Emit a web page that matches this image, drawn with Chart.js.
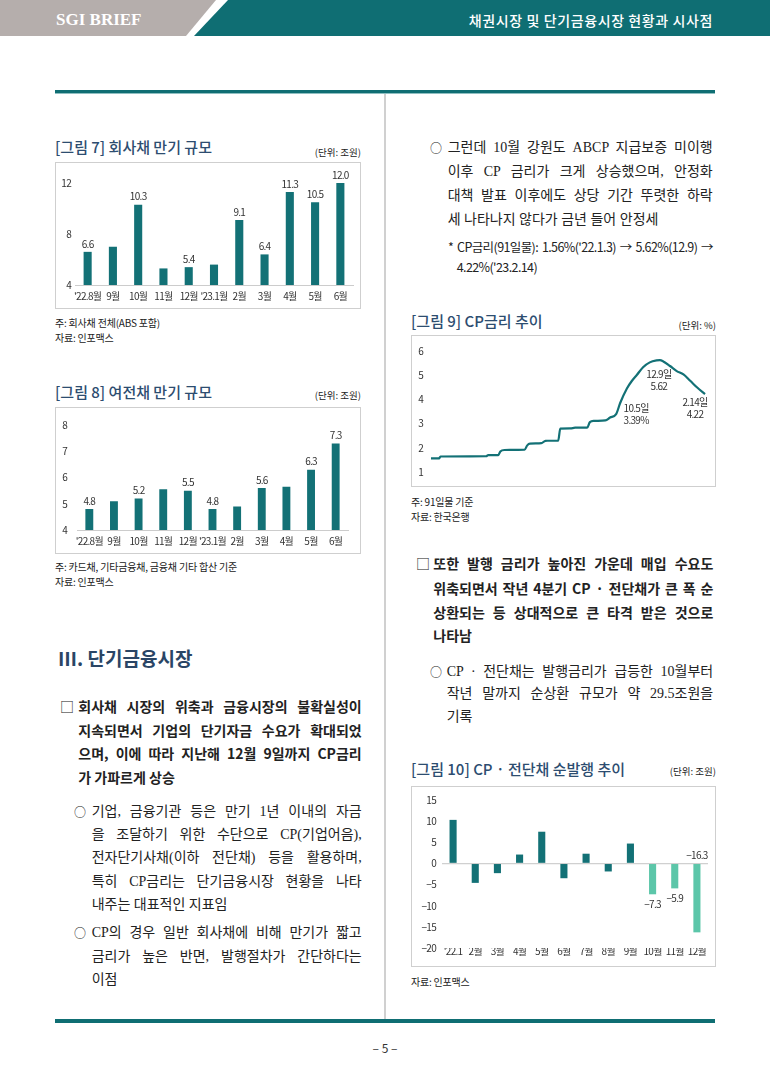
<!DOCTYPE html>
<html>
<head>
<meta charset="utf-8">
<script src="https://cdn.jsdelivr.net/npm/chart.js@4.4.0/dist/chart.umd.min.js"></script>
<style>
  body { margin: 0; background: #fff; }
  #page { position: relative; width: 770px; height: 1089px; overflow: hidden; font-family: "Noto Sans CJK KR", sans-serif; color: #222; }
  .abs { position: absolute; }
  .line { position: absolute; height: 20px; line-height: 20px; font-size: 14px; white-space: nowrap; }
  .bold { font-weight: 700; color: #222; }
  .serif { font-family: "Liberation Serif", "Noto Sans CJK KR", serif; font-weight: 400; color: #222; }
  .note { font-size: 12.5px; letter-spacing: -0.6px; color: #222; }
  .figtitle { position: absolute; font-size: 15px; font-weight: 500; color: #2d4d70; line-height: 18px; white-space: nowrap; }
  .unit { position: absolute; font-size: 9.5px; color: #222; line-height: 12px; white-space: nowrap; text-align: right; }
  .src { position: absolute; font-size: 10px; color: #222; line-height: 13px; white-space: nowrap; letter-spacing: -0.2px; }
  .frame { position: absolute; border: 1.5px solid #cfcfcf; box-sizing: border-box; }
  .cv { position: absolute; }
</style>
</head>
<body>
<div id="page">
  <div class="abs" style="left:0;top:0;width:770px;height:36px;background:#b5aeac;clip-path:polygon(0 0,216px 0,186px 36px,0 36px);"></div>
  <div class="abs" style="left:0;top:0;width:770px;height:36px;background:#0f6e73;clip-path:polygon(228px 0,770px 0,770px 36px,194px 36px);"></div>
  <div class="abs" style="left:56px;top:9px;font-family:'Liberation Serif',serif;font-weight:700;font-size:17px;color:#fff;line-height:22px;">SGI BRIEF</div>
  <div class="abs" style="right:57px;top:10px;font-size:14px;font-weight:500;color:#fff;line-height:20px;letter-spacing:0.6px;">채권시장 및 단기금융시장 현황과 시사점</div>

  <div class="abs" style="left:55px;top:90px;width:660px;height:3px;background:#0f6e73;"></div>
  <div class="abs" style="left:55px;top:93px;width:660px;height:1px;background:#8fbfc1;"></div>
  <div class="abs" style="left:384px;top:94px;width:1.5px;height:926px;background:#d0d0d0;"></div>
  <div class="abs" style="left:55px;top:1019px;width:660px;height:4px;background:#0f6e73;"></div>
  <div class="abs" style="left:0;width:770px;top:1039px;text-align:center;font-size:12px;color:#333;line-height:18px;">– 5 –</div>

  <!-- figure 7 -->
  <div class="figtitle" style="left:55px;top:138px;">[그림 7] 회사채 만기 규모</div>
  <div class="unit" style="right:409px;top:146px;">(단위: 조원)</div>
  <div class="frame" style="left:55px;top:162px;width:306px;height:147px;"></div>
  <div class="cv" style="left:57px;top:164px;"><canvas id="c7" width="303" height="143"></canvas></div>
  <div class="src" style="left:55px;top:316px;">주: 회사채 전체(ABS 포함)</div>
  <div class="src" style="left:55px;top:331px;">자료: 인포맥스</div>

  <!-- figure 8 -->
  <div class="figtitle" style="left:55px;top:383px;">[그림 8] 여전채 만기 규모</div>
  <div class="unit" style="right:409px;top:389px;">(단위: 조원)</div>
  <div class="frame" style="left:55px;top:407px;width:306px;height:147px;"></div>
  <div class="cv" style="left:57px;top:409px;"><canvas id="c8" width="303" height="143"></canvas></div>
  <div class="src" style="left:55px;top:560px;">주: 카드채, 기타금융채, 금융채 기타 합산 기준</div>
  <div class="src" style="left:55px;top:575px;">자료: 인포맥스</div>

  <!-- figure 9 -->
  <div class="figtitle" style="left:411px;top:312px;">[그림 9] CP금리 추이</div>
  <div class="unit" style="right:54px;top:319px;">(단위: %)</div>
  <div class="frame" style="left:411px;top:335px;width:305px;height:152px;"></div>
  <div class="cv" style="left:413px;top:337px;"><canvas id="c9" width="302" height="149"></canvas></div>
  <div class="src" style="left:411px;top:495px;">주: 91일물 기준</div>
  <div class="src" style="left:411px;top:510px;">자료: 한국은행</div>

  <!-- figure 10 -->
  <div class="figtitle" style="left:411px;top:760px;">[그림 10] CP · 전단채 순발행 추이</div>
  <div class="unit" style="right:54px;top:765px;">(단위: 조원)</div>
  <div class="frame" style="left:411px;top:786px;width:305px;height:181px;"></div>
  <div class="cv" style="left:413px;top:788px;"><canvas id="c10" width="302" height="178"></canvas></div>
  <div class="src" style="left:411px;top:975px;">자료: 인포맥스</div>

  <div class="abs" style="left:58px;top:645px;font-size:19px;font-weight:700;color:#2a4565;line-height:26px;">Ⅲ. 단기금융시장</div>
</div>

<script>
// ---- data ----
const months7 = ["'22.8월", "9월", "10월", "11월", "12월", "'23.1월", "2월", "3월", "4월", "5월", "6월"];
const corpMaturity = [6.6, 7.0, 10.3, 5.3, 5.4, 5.6, 9.1, 6.4, 11.3, 10.5, 12.0];
const corpShown = [true, false, true, false, true, false, true, true, true, true, true];
const corpTicks = [4, 8, 12];

const months8 = ["'22.8월", "9월", "10월", "11월", "12월", "'23.1월", "2월", "3월", "4월", "5월", "6월"];
const cardMaturity = [4.8, 5.1, 5.2, 5.55, 5.5, 4.8, 4.9, 5.6, 5.65, 6.3, 7.3];
const cardShown = [true, false, true, false, true, true, false, true, false, true, true];
const cardTicks = [4, 5, 6, 7, 8];

const cpDates = ["2022-01-03", "2022-01-15", "2022-01-17", "2022-03-26", "2022-03-29", "2022-04-13",
  "2022-04-16", "2022-04-22", "2022-05-22", "2022-05-26", "2022-05-30", "2022-06-16", "2022-06-22",
  "2022-07-11", "2022-07-14", "2022-07-29", "2022-08-05", "2022-08-23", "2022-08-27", "2022-09-02",
  "2022-09-19", "2022-09-26", "2022-10-05", "2022-10-11", "2022-10-21", "2022-10-28", "2022-11-05",
  "2022-11-14", "2022-11-24", "2022-12-04", "2022-12-09", "2022-12-14", "2022-12-24", "2023-01-03",
  "2023-01-13", "2023-01-23", "2023-02-02", "2023-02-14"];
const cpRate = [1.56, 1.56, 1.64, 1.65, 1.70, 1.70,
  1.85, 1.91, 1.92, 2.10, 2.17, 2.19, 2.29,
  2.30, 2.79, 2.80, 2.83, 2.83, 3.06, 3.11,
  3.13, 3.25, 3.39, 3.85, 4.45, 4.75, 5.02,
  5.33, 5.53, 5.61, 5.62, 5.57, 5.38, 5.17,
  5.03, 4.77, 4.50, 4.22];
const cpNotes = [
  { date: "2022-10-05", lines: ["10.5일", "3.39%"] },
  { date: "2022-12-09", lines: ["12.9일", "5.62"] },
  { date: "2023-02-14", lines: ["2.14일", "4.22"] }
];
const cpTicks = [1, 2, 3, 4, 5, 6];

const months10 = ["'22.1", "2월", "3월", "4월", "5월", "6월", "7월", "8월", "9월", "10월", "11월", "12월"];
const netIssue = [10.3, -4.6, -2.3, 2.1, 7.5, -3.5, 2.3, -1.9, 4.7, -7.3, -5.9, -16.3];
const q4Months = ["10월", "11월", "12월"];
const netTicks = [-20, -15, -10, -5, 0, 5, 10, 15];

// ---- text ----
const txtRightTop = ["그런데 10월 강원도 ABCP 지급보증 미이행", "이후 CP 금리가 크게 상승했으며, 안정화",
  "대책 발표 이후에도 상당 기간 뚜렷한 하락", "세 나타나지 않다가 금년 들어 안정세"];
const txtRightNote = ["* CP금리(91일물): 1.56%('22.1.3) → 5.62%(12.9) →", "4.22%('23.2.14)"];
const txtLeftBox = ["회사채 시장의 위축과 금융시장의 불확실성이", "지속되면서 기업의 단기자금 수요가 확대되었",
  "으며, 이에 따라 지난해 12월 9일까지 CP금리", "가 가파르게 상승"];
const txtLeftSub1 = ["기업, 금융기관 등은 만기 1년 이내의 자금", "을 조달하기 위한 수단으로 CP(기업어음),",
  "전자단기사채(이하 전단채) 등을 활용하며,", "특히 CP금리는 단기금융시장 현황을 나타", "내주는 대표적인 지표임"];
const txtLeftSub2 = ["CP의 경우 일반 회사채에 비해 만기가 짧고", "금리가 높은 반면, 발행절차가 간단하다는", "이점"];
const txtRightBox = ["또한 발행 금리가 높아진 가운데 매입 수요도", "위축되면서 작년 4분기 CP · 전단채가 큰 폭 순",
  "상환되는 등 상대적으로 큰 타격 받은 것으로", "나타남"];
const txtRightSub = ["CP · 전단채는 발행금리가 급등한 10월부터", "작년 말까지 순상환 규모가 약 29.5조원을", "기록"];

const page = document.getElementById("page");

function addLine(text, x, yc, w, cls, justify) {
  const d = document.createElement("div");
  d.className = "line " + cls;
  d.textContent = text;
  d.style.left = x + "px";
  d.style.top = (yc - 10) + "px";
  page.appendChild(d);
  if (justify) {
    const nat = d.getBoundingClientRect().width;
    const gaps = (text.match(/ /g) || []).length;
    if (nat > w) {
      d.style.letterSpacing = ((w - nat) / text.length) + "px";
    } else if (gaps) {
      d.style.wordSpacing = ((w - nat) / gaps) + "px";
    }
  }
  return d;
}

function addPara(lines, x, w, tops, cls) {
  lines.forEach(function (t, i) {
    addLine(t, x, tops[i], w, cls, i < lines.length - 1);
  });
}

function addMark(ch, x, yc, size) {
  const d = document.createElement("div");
  d.className = "line";
  d.textContent = ch;
  d.style.left = x + "px";
  d.style.top = (yc - 10) + "px";
  d.style.fontSize = size + "px";
  page.appendChild(d);
}

function layoutText() {
  addMark("○", 430, 148, 12);
  addPara(txtRightTop, 447.7, 265, [148, 172, 196, 220], "serif");
  addLine(txtRightNote[0], 448, 247, 265, "note", true);
  addLine(txtRightNote[1], 456.7, 267, 0, "note", false);

  addMark("□", 60, 706, 14);
  addPara(txtLeftBox, 78.3, 283.4, [706, 730, 753, 777], "bold");
  addMark("○", 74, 812, 12);
  addPara(txtLeftSub1, 91.7, 270, [812, 835, 858, 882, 905], "serif");
  addMark("○", 74, 933, 12);
  addPara(txtLeftSub2, 91.7, 270, [933, 957, 980], "serif");

  addMark("□", 416, 563, 14);
  addPara(txtRightBox, 433.3, 280, [563, 588, 612, 635], "bold");
  addMark("○", 430, 672, 12);
  addPara(txtRightSub, 446.7, 266.5, [672, 694, 717], "serif");
}

// ---- charts ----
const TEAL = "#137176";
const MINT = "#5cc6a9";
const tickFont = { family: '"Noto Sans CJK KR", sans-serif', size: 10 };
const fmtNum = (v) => (v < 0 ? "\u2212" : "") + Math.abs(v).toString();

// narrow text like the original's condensed gothic
Chart.register({
  id: "narrowText",
  beforeLayout(chart) { chart.ctx.letterSpacing = "-0.7px"; },
  beforeDraw(chart) { chart.ctx.letterSpacing = "-0.7px"; }
});

function valueLabels(shown) {
  return {
    id: "valueLabels",
    afterDatasetsDraw(chart) {
      const ctx = chart.ctx;
      const meta = chart.getDatasetMeta(0);
      const vals = chart.data.datasets[0].data;
      ctx.save();
      ctx.font = '10px "Noto Sans CJK KR", sans-serif';
      ctx.fillStyle = "#333";
      ctx.textAlign = "center";
      ctx.textBaseline = "middle";
      meta.data.forEach(function (bar, i) {
        if (!shown[i]) return;
        const v = vals[i];
        let y;
        if (v >= 0) y = bar.y - 8;
        else if (v < -10) y = bar.base - 9;
        else y = bar.y + 10;
        const txt = v < 0 ? fmtNum(v) : v.toFixed(1);
        ctx.fillText(txt, bar.x, y);
      });
      ctx.restore();
    }
  };
}

function barChart(id, labels, values, ticks, shown, colors, pad, yWidth, xHeight, tickPad) {
  return new Chart(document.getElementById(id), {
    type: "bar",
    data: {
      labels: labels,
      datasets: [{ data: values, backgroundColor: colors, barPercentage: 0.32, categoryPercentage: 1 }]
    },
    options: {
      responsive: false,
      animation: false,
      layout: { padding: pad },
      plugins: { legend: { display: false }, tooltip: { enabled: false } },
      scales: {
        x: {
          grid: { display: true, color: "rgba(0,0,0,0)", drawTicks: false },
          border: { display: true, color: "#cccccc", width: 1 },
          ticks: { font: tickFont, color: "#333", padding: 5, maxRotation: 0, autoSkip: false },
          afterFit: (s) => { s.height = xHeight; }
        },
        y: {
          min: ticks[0],
          max: ticks[ticks.length - 1],
          afterBuildTicks: (s) => { s.ticks = ticks.map((v) => ({ value: v })); },
          ticks: { font: tickFont, color: "#333", padding: tickPad, callback: (v) => fmtNum(v) },
          grid: { display: false, drawTicks: false },
          border: { display: false },
          afterFit: (s) => { s.width = yWidth; }
        }
      }
    },
    plugins: [valueLabels(shown)]
  });
}

barChart("c7", months7, corpMaturity, corpTicks, corpShown, TEAL,
  { top: 19, right: 7, bottom: 0, left: 0 }, 18, 22, 4);
barChart("c8", months8, cardMaturity, cardTicks, cardShown, TEAL,
  { top: 10, right: 12, bottom: 0, left: 0 }, 20, 22, 10);

// figure 10
const q4Flags = months10.map((m) => q4Months.includes(m));
const c10 = new Chart(document.getElementById("c10"), {
  type: "bar",
  data: {
    labels: months10,
    datasets: [{
      data: netIssue,
      backgroundColor: q4Flags.map((f) => (f ? MINT : TEAL)),
      barPercentage: 0.32,
      categoryPercentage: 1
    }]
  },
  options: {
    responsive: false,
    animation: false,
    layout: { padding: { top: 11, right: 7, bottom: 0, left: 0 } },
    plugins: { legend: { display: false }, tooltip: { enabled: false } },
    scales: {
      x: {
        grid: { display: false, drawTicks: false },
        border: { display: false },
        ticks: { font: tickFont, color: "#333", padding: -3, maxRotation: 0, autoSkip: false },
        afterFit: (s) => { s.height = 18; }
      },
      y: {
        min: netTicks[0],
        max: netTicks[netTicks.length - 1],
        afterBuildTicks: (s) => { s.ticks = netTicks.map((v) => ({ value: v })); },
        ticks: { font: tickFont, color: "#333", padding: 6, callback: (v) => fmtNum(v) },
        grid: {
          drawTicks: false,
          color: (c) => (c.tick && c.tick.value === 0 ? "#d0d0d0" : "rgba(0,0,0,0)"),
          lineWidth: 1.2
        },
        border: { display: false },
        afterFit: (s) => { s.width = 29; }
      }
    }
  },
  plugins: [valueLabels(q4Flags)]
});

// figure 9
const day0 = Date.parse(cpDates[0]);
const dayOf = (d) => (Date.parse(d) - day0) / 86400000;
const cpPoints = cpDates.map((d, i) => ({ x: dayOf(d), y: cpRate[i] }));

const cpNotePlugin = {
  id: "cpNotes",
  afterDatasetsDraw(chart) {
    const ctx = chart.ctx;
    const xs = chart.scales.x, ys = chart.scales.y;
    const offsets = [[20, -6], [-1, 14], [-10, 8.5]];
    ctx.save();
    ctx.font = '10px "Noto Sans CJK KR", sans-serif';
    ctx.fillStyle = "#333";
    ctx.textAlign = "center";
    ctx.textBaseline = "middle";
    cpNotes.forEach(function (n, k) {
      const i = cpDates.indexOf(n.date);
      const px = xs.getPixelForValue(dayOf(n.date)) + offsets[k][0];
      const py = ys.getPixelForValue(cpRate[i]) + offsets[k][1];
      n.lines.forEach(function (t, j) { ctx.fillText(t, px, py + j * 12); });
    });
    ctx.restore();
  }
};

const c9 = new Chart(document.getElementById("c9"), {
  type: "line",
  data: {
    datasets: [{
      data: cpPoints,
      borderColor: TEAL,
      borderWidth: 2.2,
      pointRadius: 0,
      cubicInterpolationMode: "monotone",
      clip: false
    }]
  },
  options: {
    responsive: false,
    animation: false,
    layout: { padding: { top: 13, right: 10, bottom: 11, left: 0 } },
    plugins: { legend: { display: false }, tooltip: { enabled: false } },
    scales: {
      x: { type: "linear", min: 0, max: dayOf(cpDates[cpDates.length - 1]), display: false },
      y: {
        min: cpTicks[0],
        max: cpTicks[cpTicks.length - 1],
        afterBuildTicks: (s) => { s.ticks = cpTicks.map((v) => ({ value: v })); },
        ticks: { font: tickFont, color: "#333", padding: 8 },
        grid: { display: false, drawTicks: false },
        border: { display: false },
        afterFit: (s) => { s.width = 18; }
      }
    }
  },
  plugins: [cpNotePlugin]
});

if (document.fonts && document.fonts.ready) {
  document.fonts.ready.then(layoutText);
} else {
  layoutText();
}
</script>
</body>
</html>
